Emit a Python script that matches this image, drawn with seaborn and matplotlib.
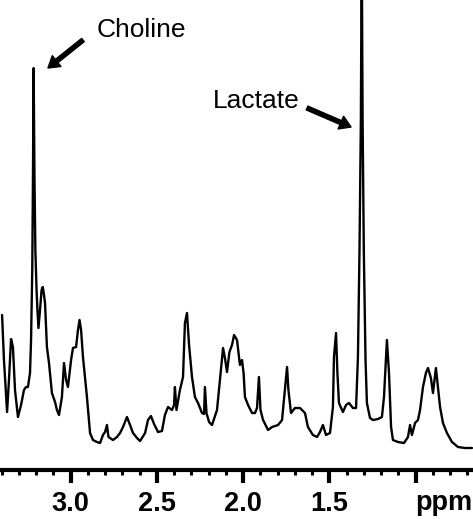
import numpy as np
import pandas as pd
import matplotlib
matplotlib.use("Agg")
import matplotlib.pyplot as plt
from matplotlib.ticker import MultipleLocator
import seaborn as sns

sns.set_style("white")
plt.rcParams["font.family"] = ["Liberation Sans", "DejaVu Sans"]
plt.rcParams["text.color"] = "black"
plt.rcParams["xtick.color"] = "black"

# 1H spectrum: chemical shift (ppm) and intensity (a.u.)
ppm = [
    3.398, 3.387, 3.369, 3.358, 3.346, 3.335, 3.323, 3.306, 3.288, 3.271,
    3.259, 3.248, 3.236, 3.230, 3.223, 3.219, 3.215, 3.210, 3.205, 3.198,
    3.193, 3.187, 3.178, 3.169, 3.162, 3.155, 3.149, 3.138, 3.126, 3.109,
    3.091, 3.080, 3.068, 3.051, 3.039, 3.027, 3.016, 2.998, 2.987, 2.969,
    2.958, 2.949, 2.940, 2.929, 2.906, 2.888, 2.871, 2.848, 2.830, 2.813,
    2.801, 2.790, 2.781, 2.755, 2.732, 2.714, 2.697, 2.674, 2.656, 2.639,
    2.616, 2.598, 2.569, 2.552, 2.535, 2.517, 2.494, 2.471, 2.454, 2.436,
    2.413, 2.401, 2.396, 2.387, 2.367, 2.349, 2.338, 2.326, 2.314, 2.297,
    2.280, 2.262, 2.239, 2.227, 2.222, 2.213, 2.198, 2.181, 2.152, 2.135,
    2.117, 2.106, 2.094, 2.080, 2.065, 2.053, 2.036, 2.019, 2.007, 1.998,
    1.990, 1.972, 1.949, 1.932, 1.920, 1.909, 1.900, 1.885, 1.856, 1.833,
    1.798, 1.775, 1.764, 1.746, 1.738, 1.723, 1.700, 1.671, 1.642, 1.625,
    1.596, 1.572, 1.555, 1.538, 1.520, 1.497, 1.480, 1.474, 1.462, 1.454,
    1.445, 1.422, 1.404, 1.387, 1.364, 1.346, 1.335, 1.326, 1.318, 1.313,
    1.308, 1.301, 1.291, 1.283, 1.265, 1.248, 1.219, 1.196, 1.184, 1.172,
    1.167, 1.155, 1.143, 1.132, 1.103, 1.068, 1.045, 1.033, 1.022, 1.004,
    0.987, 0.975, 0.958, 0.941, 0.929, 0.912, 0.900, 0.883, 0.871, 0.859,
    0.842, 0.819, 0.790, 0.755, 0.714, 0.674,
]
intensity = [
    155, 110, 58, 90, 131, 123, 80, 53, 65, 80,
    83, 83, 97, 130, 200, 290, 402, 290, 220, 180,
    160, 142, 160, 180, 183, 175, 167, 123, 107, 77,
    68, 60, 55, 73, 107, 90, 83, 110, 122, 123,
    140, 150, 140, 113, 73, 37, 30, 28, 27, 35,
    38, 45, 33, 30, 33, 37, 43, 53, 45, 37,
    32, 29, 37, 50, 54, 46, 38, 39, 55, 63,
    60, 65, 83, 60, 80, 93, 147, 157, 125, 93,
    73, 67, 57, 56, 83, 57, 48, 45, 60, 90,
    122, 112, 98, 118, 125, 135, 130, 105, 110, 97,
    73, 65, 57, 57, 62, 93, 60, 50, 40, 43,
    45, 50, 70, 103, 80, 57, 62, 62, 57, 43,
    35, 33, 38, 45, 35, 37, 63, 113, 137, 97,
    67, 58, 65, 67, 62, 62, 113, 220, 350, 530,
    350, 220, 110, 67, 52, 50, 51, 53, 73, 113,
    130, 97, 43, 30, 28, 27, 33, 45, 35, 47,
    50, 60, 83, 97, 102, 92, 77, 102, 83, 63,
    47, 37, 28, 23, 22, 22,
]

major_ticks = [3.0, 2.5, 2.0, 1.5, 1.0]
major_labels = ["3.0", "2.5", "2.0", "1.5", ""]

# peak labels: (text, text position, arrow tail, arrow tip)
peak_names = ["Choline", "Lactate"]
label_pos = [(2.592, 433), (1.926, 362)]
arrow_tail = [(2.929, 430), (1.630, 362)]
arrow_tip = [(3.132, 402), (1.375, 343)]

spec = pd.DataFrame({"ppm": ppm, "intensity": intensity})

fig = plt.figure(figsize=(4.73, 5.19), dpi=100)
ax = fig.add_axes([0, 0.0944, 1, 0.9056])

sns.lineplot(data=spec, x="ppm", y="intensity", ax=ax, color="black",
             linewidth=1.7, estimator=None)

ax.set_xlim(3.41, 0.668)
ax.set_ylim(0, 470)

ax.set_xticks(major_ticks)
ax.set_xticklabels(major_labels, fontsize=19.5, fontweight="bold")
ax.xaxis.set_minor_locator(MultipleLocator(0.1))
ax.tick_params(axis="x", which="major", direction="out", length=9, width=3,
               pad=6, bottom=True, colors="black")
ax.tick_params(axis="x", which="minor", direction="out", length=3.5, width=2.2,
               bottom=True, colors="black")
ax.set_yticks([])
ax.set_xlabel("")
ax.set_ylabel("")

sns.despine(ax=ax, left=True, top=True, right=True)
ax.spines["bottom"].set_linewidth(3)
ax.spines["bottom"].set_color("black")

# axis unit sits where the 1.0 label would be, slightly right
ax.text(0.836, -0.042, "ppm", transform=ax.get_xaxis_transform(),
        ha="center", va="top", fontsize=19.5, fontweight="bold")

for name, pos, tail, tip in zip(peak_names, label_pos, arrow_tail, arrow_tip):
    ax.text(pos[0], pos[1], name, ha="center", va="baseline", fontsize=19)
    ax.annotate("", xy=tip, xytext=tail,
                arrowprops={"facecolor": "black", "edgecolor": "black",
                            "width": 3, "headwidth": 10, "headlength": 8,
                            "shrink": 0})

fig.savefig("out.png", dpi=100)
